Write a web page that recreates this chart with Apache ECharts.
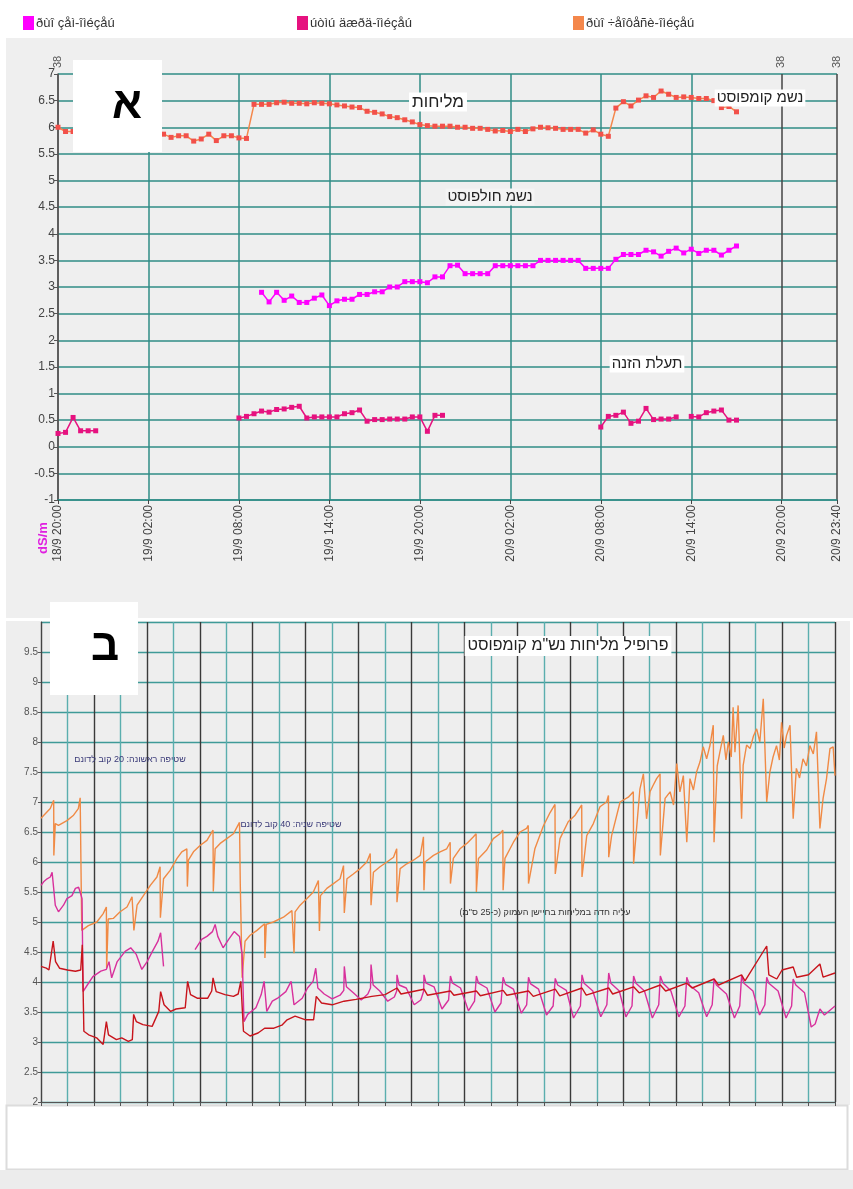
<!DOCTYPE html>
<html><head><meta charset="utf-8">
<script src="https://cdn.jsdelivr.net/npm/echarts@6/dist/echarts.min.js"></script>
<style>html,body{margin:0;padding:0;background:#fff;}#c{width:853px;height:1189px;}</style>
</head><body><div id="c"></div>
<script>
// ---------- TOP CHART DATA (hours after 18/9 20:00, 30-minute readings) ----------
const topTickLabels = ['18/9 20:00','19/9 02:00','19/9 08:00','19/9 14:00','19/9 20:00','20/9 02:00','20/9 08:00','20/9 14:00','20/9 20:00','20/9 23:40'];
const legendNames = ['ðùî çåì-îìéçåú','úòìú äæðä-îìéçåú','ðùî ÷åîôåñè-îìéçåú'];
const legendColors = ['#ff00ff', '#e6127f', '#f4874b'];
const stepHours = 0.5;

const compostStart = 0;
const compostTop = [6.00,5.92,5.92,5.90,5.88,5.90,5.92,5.90,5.88,5.86,5.90,5.88,5.87,5.88,5.87,5.81,5.84,5.84,5.74,5.78,
  5.87,5.75,5.84,5.84,5.80,5.79,6.43,6.43,6.43,6.46,6.47,6.45,6.45,6.44,6.46,6.45,6.44,6.42,6.40,6.38,
  6.37,6.30,6.28,6.25,6.20,6.18,6.14,6.10,6.05,6.03,6.02,6.02,6.02,6.00,6.00,5.98,5.98,5.96,5.93,5.94,
  5.92,5.96,5.92,5.97,6.00,5.99,5.98,5.96,5.96,5.96,5.89,5.95,5.87,5.83,6.36,6.48,6.40,6.51,6.59,6.56,
  6.68,6.62,6.56,6.57,6.56,6.54,6.54,6.50,6.37,6.39,6.29];

const sandStart = 13.5;
const sandTop = [2.90,2.72,2.90,2.75,2.83,2.71,2.71,2.79,2.85,2.65,2.74,2.77,2.77,2.86,2.86,2.91,2.91,3.00,3.00,3.10,
  3.10,3.10,3.08,3.19,3.19,3.40,3.41,3.25,3.25,3.25,3.25,3.40,3.40,3.40,3.40,3.40,3.40,3.50,3.50,3.50,
  3.50,3.50,3.50,3.35,3.35,3.35,3.35,3.52,3.61,3.61,3.61,3.69,3.66,3.58,3.67,3.73,3.64,3.71,3.63,3.69,
  3.69,3.60,3.69,3.77];

const channelStarts = [0, 12, 36];
const channelSeg1 = [0.25,0.27,0.55,0.30,0.30,0.30];
const channelSeg2 = [0.54,0.57,0.62,0.67,0.65,0.70,0.71,0.74,0.76,0.54,0.56,0.56,0.56,0.56,0.62,0.64,0.69,0.48,0.51,0.51,
  0.52,0.52,0.52,0.56,0.56,0.29,0.59,0.59];
const channelSeg3 = [0.37,0.57,0.59,0.65,0.44,0.48,0.72,0.51,0.52,0.52,0.56,null,0.57,0.56,0.64,0.67,0.69,0.50,0.50];

// ---------- BOTTOM CHART DATA ([grid division, dS/m]) ----------
const compostBottom = [[0,6.73],[0.35,6.89],[0.48,7.03],[0.485,6.11],[0.54,6.64],[0.66,6.61],[0.98,6.69],[1.23,6.78],[1.41,6.89],[1.48,7.07],
 [1.54,4.86],[1.79,4.94],[2.11,5.0],[2.35,5.14],[2.47,5.25],[2.48,4.23],[2.54,5.05],[2.73,5.06],[2.99,5.17],[3.25,5.25],
 [3.44,5.42],[3.5,5.45],[3.51,4.86],[3.63,5.28],[3.87,5.44],[4.13,5.61],[4.38,5.75],[4.5,5.92],[4.51,5.07],[4.63,5.72],
 [4.88,5.86],[5.14,6.06],[5.32,6.17],[5.51,6.22],[5.53,5.59],[5.57,6.03],[5.76,6.17],[6.02,6.28],[6.27,6.36],[6.5,6.53],
 [6.51,5.51],[6.58,6.22],[6.77,6.31],[7.02,6.39],[7.27,6.47],[7.5,6.66],[7.53,5.62],[7.6,4.07],[7.71,4.68],[7.9,4.78],
 [8.16,4.86],[8.45,4.97],[8.46,4.4],[8.51,4.96],[8.78,5.0],[9.16,5.08],[9.48,5.19],[9.55,5.22],[9.56,4.48],[9.6,5.17],
 [9.79,5.28],[10.05,5.39],[10.29,5.5],[10.48,5.69],[10.51,5.72],[10.52,4.85],[10.56,5.44],[10.8,5.56],[11.05,5.64],[11.3,5.72],
 [11.43,5.94],[11.45,5.94],[11.46,5.15],[11.56,5.72],[11.8,5.8],[12.06,5.89],[12.31,6.0],[12.44,6.14],[12.46,6.14],[12.47,5.28],
 [12.56,5.83],[12.81,5.92],[13.07,6.0],[13.32,6.08],[13.44,6.22],[13.45,5.33],[13.57,5.89],[13.82,5.97],[14.07,6.03],[14.33,6.11],
 [14.45,6.42],[14.47,5.53],[14.51,6.0],[14.83,6.11],[15.08,6.17],[15.33,6.22],[15.46,6.33],[15.47,5.64],[15.58,6.06],[15.83,6.22],
 [16.09,6.31],[16.34,6.42],[16.44,6.47],[16.45,5.5],[16.53,6.06],[16.84,6.2],[17.09,6.39],[17.34,6.47],[17.45,6.53],[17.46,5.53],
 [17.53,6.06],[17.85,6.33],[18.1,6.5],[18.35,6.56],[18.41,6.61],[18.42,5.64],[18.66,6.22],[18.98,6.6],[19.23,6.82],[19.42,6.96],
 [19.43,5.8],[19.61,6.39],[19.92,6.67],[20.18,6.78],[20.43,6.95],[20.44,5.75],[20.62,6.44],[20.87,6.64],[21.12,6.92],[21.37,7.0],
 [21.44,7.11],[21.45,6.08],[21.56,6.44],[21.88,7.0],[22.19,7.08],[22.38,7.17],[22.39,5.97],[22.63,7.22],[22.76,7.47],[22.88,6.72],
 [23.01,7.17],[23.13,7.28],[23.26,7.39],[23.39,7.47],[23.4,6.11],[23.58,7.06],[23.77,7.17],[23.9,6.95],[24.02,7.64],[24.14,7.17],
 [24.27,7.44],[24.4,6.33],[24.52,7.39],[24.65,7.2],[24.77,7.5],[24.9,7.67],[25.02,7.92],[25.15,7.72],[25.28,7.95],[25.4,8.28],
 [25.43,6.33],[25.55,7.6],[25.65,7.83],[25.78,8.11],[25.88,7.7],[25.97,8.0],[26.08,7.75],[26.15,8.58],[26.22,7.83],[26.34,8.61],
 [26.47,6.72],[26.53,7.61],[26.66,7.95],[26.79,7.89],[26.92,8.1],[27.04,8.22],[27.16,8.0],[27.29,8.72],[27.42,7.0],[27.54,7.5],
 [27.66,7.75],[27.79,7.94],[27.9,7.7],[27.98,8.33],[28.08,7.9],[28.17,8.11],[28.3,8.28],[28.42,6.72],[28.54,7.56],[28.66,7.4],
 [28.79,7.72],[28.92,7.6],[29.05,7.94],[29.18,7.8],[29.3,8.17],[29.43,6.56],[29.55,7.06],[29.68,7.39],[29.81,7.89],[29.93,7.92],[30,7.44]];

const sandBottom = [[0,5.61],[0.1,5.67],[0.23,5.72],[0.35,5.75],[0.42,5.83],[0.48,5.86],[0.54,5.28],[0.66,5.17],[0.85,5.28],[0.98,5.39],
 [1.17,5.44],[1.3,5.56],[1.42,5.58],[1.48,5.5],[1.55,5.39],[1.59,3.84],[1.75,3.95],[1.96,4.09],[2.26,4.18],[2.47,4.21],
 [2.57,4.34],[2.67,4.07],[2.88,4.34],[3.18,4.51],[3.39,4.57],[3.6,4.46],[3.81,4.21],[4.01,4.34],[4.21,4.51],[4.42,4.68],
 [4.52,4.82],[4.63,4.26],[5.2,null],
 [5.82,4.54],[6.07,4.71],[6.27,4.76],[6.48,4.84],[6.58,4.96],[6.68,4.76],[6.88,4.57],[7.09,4.71],[7.3,4.84],[7.5,4.76],
 [7.6,4.46],[7.67,3.34],[7.81,3.46],[8.12,3.57],[8.32,3.79],[8.43,4.01],[8.53,3.51],[8.74,3.68],[8.94,3.73],[9.25,3.84],
 [9.45,4.01],[9.56,3.62],[9.87,3.73],[10.07,3.9],[10.28,4.01],[10.38,4.23],[10.46,3.9],[10.7,3.8],[11.0,3.72],[11.3,3.78],
 [11.44,3.86],[11.46,4.26],[11.54,3.92],[11.8,3.82],[12.1,3.7],[12.35,3.8],[12.45,3.9],[12.47,4.29],[12.55,3.95],[12.8,3.85],
 [13.1,3.68],[13.35,3.75],[13.44,3.85],[13.45,4.12],[13.53,3.95],[13.8,3.9],[14.1,3.62],[14.35,3.7],[14.46,3.85],[14.47,4.12],
 [14.55,3.98],[14.85,3.92],[15.15,3.55],[15.4,3.7],[15.47,4.1],[15.55,3.98],[15.85,3.9],[16.15,3.52],[16.38,3.68],[16.45,4.1],
 [16.53,3.98],[16.85,3.9],[17.15,3.5],[17.38,3.65],[17.46,4.08],[17.55,3.96],[17.85,3.88],[18.15,3.48],[18.35,3.62],[18.42,4.08],
 [18.5,3.97],[18.8,3.88],[19.1,3.45],[19.35,3.6],[19.43,4.06],[19.52,3.95],[19.85,3.86],[20.12,3.4],[20.38,3.6],[20.44,4.12],
 [20.52,3.98],[20.85,3.85],[21.15,3.42],[21.38,3.62],[21.45,4.15],[21.53,3.98],[21.85,3.85],[22.1,3.42],[22.33,3.6],[22.39,4.1],
 [22.48,3.98],[22.8,3.85],[23.1,3.4],[23.34,3.62],[23.4,4.1],[23.5,3.98],[23.8,3.85],[24.1,3.42],[24.33,3.6],[24.4,4.08],
 [24.5,3.95],[24.85,3.82],[25.15,3.42],[25.36,3.62],[25.43,4.05],[25.52,3.95],[25.9,3.8],[26.2,3.4],[26.4,3.6],[26.47,4.1],
 [26.56,3.98],[26.9,3.85],[27.15,3.45],[27.35,3.62],[27.42,4.08],[27.5,3.98],[27.85,3.85],[28.15,3.4],[28.36,3.6],[28.42,4.05],
 [28.52,3.95],[28.85,3.82],[29.1,3.25],[29.25,3.3],[29.43,3.55],[29.6,3.45],[30,3.6]];

const channelBottom = [[0,4.26],[0.2,4.23],[0.3,4.2],[0.46,4.68],[0.55,4.34],[0.7,4.23],[1.0,4.2],[1.3,4.18],[1.5,4.2],[1.56,4.62],
 [1.62,3.18],[1.8,3.12],[2.1,3.07],[2.35,2.96],[2.47,3.34],[2.55,3.12],[2.85,3.04],[3.05,3.07],[3.3,3.01],[3.45,3.04],
 [3.5,3.46],[3.6,3.34],[3.85,3.29],[4.2,3.26],[4.45,3.51],[4.52,3.84],[4.65,3.62],[4.9,3.51],[5.1,3.55],[5.45,3.57],
 [5.54,4.01],[5.65,3.79],[5.9,3.73],[6.3,3.73],[6.45,3.85],[6.5,4.07],[6.62,3.84],[6.95,3.79],[7.27,3.76],[7.45,3.8],
 [7.55,4.01],[7.65,3.18],[7.9,3.1],[8.2,3.15],[8.45,3.23],[8.8,3.23],[9.1,3.28],[9.3,3.37],[9.6,3.43],[10.0,3.37],
 [10.3,3.37],[10.4,3.76],[10.6,3.65],[11.0,3.62],[11.45,3.68],[11.9,3.71],[12.5,3.76],[13.0,3.79],[13.45,3.9],[13.6,3.8],
 [14.47,3.88],[14.6,3.78],[15.47,3.85],[15.6,3.78],[16.45,3.85],[16.6,3.77],[17.46,3.86],[17.6,3.78],[18.42,3.85],[18.6,3.76],
 [19.43,3.88],[19.6,3.77],[20.44,3.9],[20.6,3.78],[21.45,3.9],[21.6,3.8],[22.39,3.92],[22.6,3.82],[23.4,3.95],[23.6,3.85],
 [24.4,3.98],[24.6,3.9],[25.43,4.05],[25.6,3.95],[26.47,4.12],[26.6,4.02],[27.42,4.6],[27.5,4.12],[27.8,4.05],[28.0,4.2],
 [28.42,4.25],[28.55,4.08],[29.0,4.12],[29.43,4.3],[29.55,4.08],[30,4.15]];

// ---------- build ----------
const FONT = '"Liberation Sans", Arial, "DejaVu Sans", sans-serif';
const TEAL = '#2f8c86';
const toPts = (start, arr) => arr.map((v, i) => [start + i * stepHours, v === null ? '-' : v]);
const channelData = toPts(channelStarts[0], channelSeg1).concat([[3, '-']], toPts(channelStarts[1], channelSeg2), [[26, '-']], toPts(channelStarts[2], channelSeg3));

const chart = echarts.init(document.getElementById('c'), null, {renderer: 'canvas'});
const topXColors = ['#555', TEAL, TEAL, TEAL, TEAL, TEAL, TEAL, TEAL, '#444', '#444'];

function txt(x, y, text, size, color, opts) {
  return Object.assign({type: 'text', x: x, y: y, z: 50, silent: true,
    style: Object.assign({text: text, fill: color, font: size + 'px ' + FONT, align: 'center', verticalAlign: 'middle'}, (opts && opts.style) || {})},
    (opts && opts.el) || {});
}

chart.setOption({
  animation: false,
  textStyle: {fontFamily: FONT},
  legend: [0, 1, 2].map((i) => ({
    data: [{name: legendNames[i], itemStyle: {color: legendColors[i]}}], top: 11, left: [18, 292, 568][i], icon: 'rect', itemWidth: 11, itemHeight: 14, itemGap: 2,
    selectedMode: false, textStyle: {fontSize: 13, color: '#333', fontFamily: FONT, padding: [0, 0, 0, -3]}
  })),
  grid: [
    {left: 58, top: 74, width: 779, height: 426, containLabel: false},
    {left: 41, top: 622, width: 794, height: 480, containLabel: false}
  ],
  xAxis: [
    {gridIndex: 0, type: 'value', min: 0, max: 51 + 40 / 60, interval: 6,
     axisLine: {show: true, onZero: false, lineStyle: {color: TEAL, width: 1.5}},
     axisTick: {show: true, length: 4, lineStyle: {color: '#444'}},
     axisLabel: {rotate: 90, fontSize: 12, color: '#444', margin: 5, formatter: (v, i) => topTickLabels[i] || ''},
     splitLine: {show: true, lineStyle: {color: topXColors, width: 1.5}}},
    {gridIndex: 1, type: 'value', min: 0, max: 30, interval: 1,
     axisLine: {show: true, onZero: false, lineStyle: {color: '#555', width: 1}},
     axisTick: {show: true, length: 4, lineStyle: {color: '#555'}},
     axisLabel: {show: false},
     splitLine: {show: true, lineStyle: {color: ['#3a3a3a', '#5aaeae'], width: 1.4}}}
  ],
  yAxis: [
    {gridIndex: 0, type: 'value', min: -1, max: 7, interval: 0.5,
     axisLine: {show: true, onZero: false, lineStyle: {color: '#555', width: 1.5}},
     axisTick: {show: true, length: 4, lineStyle: {color: '#555'}},
     axisLabel: {fontSize: 12, color: '#444', margin: 3},
     splitLine: {show: true, lineStyle: {color: TEAL, width: 1.5}}},
    {gridIndex: 1, type: 'value', min: 2, max: 10, interval: 0.5,
     axisLine: {show: true, onZero: false, lineStyle: {color: '#444', width: 1}},
     axisTick: {show: true, length: 3, lineStyle: {color: '#555'}},
     axisLabel: {fontSize: 10, color: '#555', margin: 3, showMaxLabel: false},
     splitLine: {show: true, lineStyle: {color: '#3f9a98', width: 1.4}}}
  ],
  series: [
    {name: legendNames[0], type: 'line', xAxisIndex: 0, yAxisIndex: 0, data: toPts(sandStart, sandTop),
     symbol: 'rect', symbolSize: 5, showAllSymbol: true, color: '#ff00ff', lineStyle: {width: 1.5, color: '#ff00ff'}, itemStyle: {color: '#ff00ff'}, z: 5},
    {name: legendNames[1], type: 'line', xAxisIndex: 0, yAxisIndex: 0, data: channelData,
     symbol: 'rect', symbolSize: 5, showAllSymbol: true, color: '#e6127f', lineStyle: {width: 1.5, color: '#e6127f'}, itemStyle: {color: '#e6127f'}, z: 5},
    {name: legendNames[2], type: 'line', xAxisIndex: 0, yAxisIndex: 0, data: toPts(compostStart, compostTop),
     symbol: 'rect', symbolSize: 5, showAllSymbol: true, color: '#f4874b', lineStyle: {width: 1.5, color: '#f4874b'}, itemStyle: {color: '#f2504a'}, z: 5},
    {name: 'b-compost', type: 'line', xAxisIndex: 1, yAxisIndex: 1, data: compostBottom, showSymbol: false,
     lineStyle: {width: 1.4, color: '#f08a45'}, z: 3},
    {name: 'b-sand', type: 'line', xAxisIndex: 1, yAxisIndex: 1, data: sandBottom, showSymbol: false,
     lineStyle: {width: 1.4, color: '#d8309c'}, z: 4},
    {name: 'b-channel', type: 'line', xAxisIndex: 1, yAxisIndex: 1, data: channelBottom, showSymbol: false,
     lineStyle: {width: 1.4, color: '#c8141c'}, z: 4}
  ],
  graphic: [
    {type: 'rect', silent: true, z: -100, shape: {x: 6, y: 38, width: 847, height: 580}, style: {fill: '#efefef'}},
    {type: 'rect', silent: true, z: -100, shape: {x: 6, y: 621, width: 844, height: 484}, style: {fill: '#eeeeee'}},
    {type: 'rect', silent: true, z: -100, shape: {x: 6.5, y: 1105.5, width: 841, height: 64}, style: {fill: '#fff', stroke: '#dcdcdc', lineWidth: 2}},
    {type: 'rect', silent: true, z: -100, shape: {x: 0, y: 1170, width: 853, height: 19}, style: {fill: '#ececec'}},
    // white label boxes
    {type: 'rect', silent: true, z: 60, shape: {x: 73, y: 60, width: 89, height: 92}, style: {fill: '#fff'}},
    txt(127, 106, 'א', 44, '#000', {style: {font: 'bold 44px ' + FONT}, el: {z: 61}}),
    {type: 'rect', silent: true, z: 60, shape: {x: 50, y: 602, width: 88, height: 93}, style: {fill: '#fff'}},
    txt(105, 648, 'ב', 44, '#000', {style: {font: 'bold 44px ' + FONT}, el: {z: 61}}),
    // top annotations
    txt(438, 102, 'מליחות', 17, '#222', {style: {backgroundColor: '#fff', padding: [1, 3]}}),
    txt(760, 98, 'נשמ קומפוסט', 15, '#222', {style: {backgroundColor: '#fff', padding: [1, 2]}}),
    txt(490, 197, 'נשמ חולפוסט', 15, '#222', {style: {backgroundColor: '#f4f4f4', padding: [1, 2]}}),
    txt(647, 364, 'תעלת הזנה', 15, '#222', {style: {backgroundColor: '#fff', padding: [1, 2]}}),
    // rotated small labels
    txt(58, 62, '38', 11, '#555', {el: {rotation: Math.PI / 2}}),
    txt(781, 62, '38', 11, '#555', {el: {rotation: Math.PI / 2}}),
    txt(837, 62, '38', 11, '#555', {el: {rotation: Math.PI / 2}}),
    txt(43, 538, 'dS/m', 13, '#e020e0', {style: {font: 'bold 13px ' + FONT}, el: {rotation: Math.PI / 2}}),
    // bottom annotations
    txt(568, 646, 'פרופיל מליחות נש"מ קומפוסט', 16, '#222', {style: {backgroundColor: '#fff', padding: [2, 3]}}),
    txt(130, 760, 'שטיפה ראשונה: 20 קוב לדונם', 9, '#3a3a78'),
    txt(291, 825, 'שטיפה שניה: 40 קוב לדונם', 9, '#3a3a78'),
    txt(545, 913, 'עליה חדה במליחות בחיישן העמוק (כ-25 ס"מ)\u200F', 9, '#333')
  ]
});
</script></body></html>
